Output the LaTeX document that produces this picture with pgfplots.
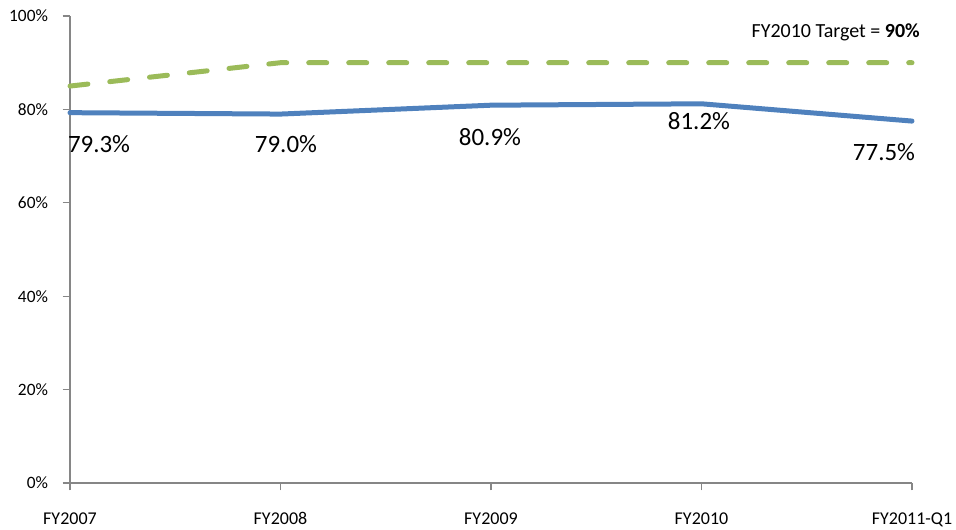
\documentclass[border=0pt]{standalone}
\usepackage{pgfplots}
\pgfplotsset{compat=1.18}
\usetikzlibrary{calc}
\usepackage{fontspec}
\setmainfont{Carlito}
\newcommand\xtf{\fontsize{13.5pt}{15pt}\selectfont}
\newcommand\ytf{\fontsize{13pt}{15pt}\selectfont}
\definecolor{blueline}{HTML}{4F81BD}
\definecolor{greenline}{HTML}{9BBB59}
\definecolor{axisgray}{HTML}{868686}
\begin{document}
\begin{tikzpicture}
\begin{axis}[
  scale only axis,
  width=631.5pt, height=350.25pt,
  xmin=0, xmax=4, ymin=0, ymax=100,
  axis x line*=bottom, axis y line*=left,
  axis line style={axisgray, line width=1.2pt},
  xtick={0,1,2,3,4},
  xticklabels={{\xtf FY2007},{\xtf FY2008},{\xtf FY2009},{\xtf FY2010},{\xtf FY2011-Q1}},
  ytick={0,20,40,60,80,100},
  yticklabels={{\ytf 0\%},{\ytf 20\%},{\ytf 40\%},{\ytf 60\%},{\ytf 80\%},{\ytf 100\%}},
  tick align=outside,
  major tick length=5.5pt,
  tick style={axisgray, line width=1pt},
  ticklabel style={text=black},
  xticklabel style={anchor=base, yshift=-25.75pt},
  yticklabel style={anchor=east, xshift=-7.5pt},
  clip=false,
]
\addplot[greenline, line width=3.75pt, line cap=round, dash pattern=on 13.5pt off 16.5pt]
  coordinates {(0,85) (1,90) (2,90) (3,90) (4,90)};
\addplot[blueline, line width=3.75pt, line cap=round, line join=round]
  coordinates {(0,79.3) (1,79.0) (2,80.9) (3,81.2) (4,77.5)};
\begin{scope}[every node/.style={font=\fontsize{18.7pt}{22pt}\selectfont, anchor=base, inner sep=0pt}]
\node at (axis cs:0.138,70.7) {79.3\%};
\node at (axis cs:1.026,70.7) {79.0\%};
\node at (axis cs:1.995,72.2) {80.9\%};
\node at (axis cs:2.988,75.6) {81.2\%};
\node at (axis cs:3.867,69.0) {77.5\%};
\end{scope}
\node[anchor=base east, inner sep=0pt, font=\fontsize{15pt}{18pt}\selectfont] at (axis cs:4.038,95.5) {FY2010 Target = \textbf{90\%}};
\end{axis}
\pgfresetboundingbox
\path[use as bounding box] ($(current axis.south west)+(-52.5pt,-34.5pt)$) rectangle ($(current axis.north east)+(33pt,12pt)$);
\end{tikzpicture}
\end{document}
